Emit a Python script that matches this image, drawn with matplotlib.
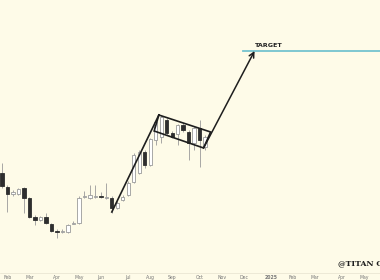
import matplotlib
matplotlib.use('Agg')
import matplotlib.pyplot as plt
import pandas as pd

# weekly candles, arbitrary price units
opens = [100, 86, 79, 79, 85, 75, 56, 53, 56, 49, 42, 41.5, 41, 49.5, 50,
         76.5, 75, 76.5, 77.5, 75.5, 75, 65, 73, 78, 91, 100, 121, 108,
         133, 136, 153, 140, 139, 148, 141, 130, 145, 126]
highs = [110, 88, 83, 85, 86, 76, 58, 57, 60, 50, 44, 44, 49, 52, 77,
         82, 88, 88, 81, 90, 77, 72, 78, 92, 120, 123, 123, 135,
         153, 158, 155, 142, 149, 150, 143, 147, 153, 138]
lows = [85, 61, 77, 78, 60, 55, 48, 52, 49, 41, 35, 40, 40, 49, 49,
        75, 74, 75, 75, 74, 60, 64, 72, 77, 90, 99, 105, 107,
        128, 130, 138, 135, 128, 141, 113, 123, 106, 123]
closes = [87, 79, 81, 84, 75, 56, 53, 56, 50, 42, 41.5, 42, 48, 50.5, 75,
          77.5, 78, 77.5, 76, 76.5, 65, 70, 76, 90, 118, 121, 108, 134,
          151, 156, 140, 136, 148, 143, 130, 145, 133, 136]
dates = pd.date_range('2024-01-22', periods=len(opens), freq='7D')

# bull flag drawing
pole = (['2024-06-10', '2024-08-09'], [61, 158])
flag_dates = ['2024-08-09', '2024-10-14', '2024-10-05', '2024-08-03', '2024-08-09']
flag_vals = [158, 141, 125, 142, 158]
arrow_from = ('2024-10-05', 125)
arrow_to = ('2024-12-09', 222)
target = 222
target_start = '2024-11-24'

months = ['2024-02-01', '2024-03-01', '2024-04-01', '2024-05-01', '2024-06-01',
          '2024-07-01', '2024-08-01', '2024-09-01', '2024-10-01', '2024-11-01',
          '2024-12-01', '2025-01-01', '2025-02-01', '2025-03-01', '2025-04-01',
          '2025-05-01']
month_labels = ['Feb', 'Mar', 'Apr', 'May', 'Jun', 'Jul', 'Aug', 'Sep', 'Oct',
                'Nov', 'Dec', '2025', 'Feb', 'Mar', 'Apr', 'May']

bg = '#fefbe8'
fig = plt.figure(figsize=(3.8, 2.8), dpi=100, facecolor=bg)
ax = fig.add_axes([0, 7 / 280, 1, 273 / 280])
ax.set_facecolor(bg)

up_face, down_face = '#ffffff', '#2e2e2e'
edge = '#9a9a9a'
for d, o, h, l, c in zip(dates, opens, highs, lows, closes):
    ax.vlines(d, l, h, color=edge, lw=0.6, zorder=1)
    bottom = min(o, c)
    height = max(abs(c - o), 0.9)
    face = up_face if c >= o else down_face
    ec = edge if c >= o else '#2e2e2e'
    ax.bar(d, height, bottom=bottom, width=4.3, color=face, edgecolor=ec,
           linewidth=0.6, zorder=2)

ax.plot(pd.to_datetime(pole[0]), pole[1], color='#1e1e1e', lw=1.2, zorder=3)
ax.plot(pd.to_datetime(flag_dates), flag_vals, color='#1e1e1e', lw=1.2,
        zorder=3, solid_joinstyle='miter')
ax.annotate('', xy=(pd.Timestamp(arrow_to[0]), arrow_to[1]),
            xytext=(pd.Timestamp(arrow_from[0]), arrow_from[1]),
            arrowprops=dict(arrowstyle='->', lw=1.1, color='#1e1e1e',
                            mutation_scale=9, shrinkA=0, shrinkB=0), zorder=3)

left = dates[0] - pd.Timedelta(days=2.55)
right = left + pd.Timedelta(days=484.5)
ax.plot([pd.Timestamp(target_start), right], [target, target],
        color='#74c3cf', lw=1.3, zorder=2)
ax.text(pd.Timestamp(arrow_to[0]), target + 3, 'TARGET', fontsize=4.6,
        fontweight='bold', color='#222222', ha='left', va='bottom')

ax.set_xlim(left, right)
ax.set_ylim(0, 273)

# labels sit on the weekly bar that holds the first of the month
ticks = [pd.Timestamp(m) - pd.Timedelta(days=pd.Timestamp(m).weekday())
         for m in months]
ax.set_xticks(ticks)
ax.set_xticklabels(month_labels)
for lab, txt in zip(ax.get_xticklabels(), month_labels):
    if txt == '2025':
        lab.set_fontweight('bold')
        lab.set_color('#444444')
ax.tick_params(axis='x', length=0, pad=1.2, labelsize=3.3, colors='#777777')
ax.set_yticks([])
for side in ['top', 'left', 'right']:
    ax.spines[side].set_visible(False)
ax.spines['bottom'].set_color('#e6e2cf')
ax.spines['bottom'].set_linewidth(0.5)

fig.text(338 / 380, 1 - 263 / 280, '@TITAN OF CRYPTO', fontsize=5.6,
         fontweight='bold', family='DejaVu Serif', color='#1e1e1e',
         ha='left', va='center')

fig.savefig('out.png', dpi=100, facecolor=bg)
